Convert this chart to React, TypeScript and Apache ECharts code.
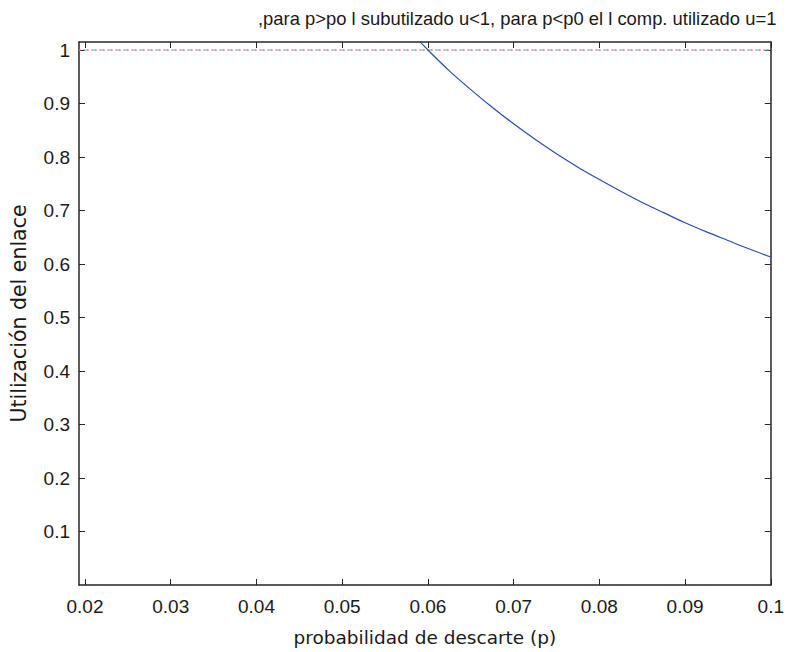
import React, { useEffect, useRef } from "react";
import * as echarts from "echarts";

const titleText = ",para p>po l subutilzado u<1, para p<p0 el l comp. utilizado u=1";
const xName = "probabilidad de descarte (p)";
const yName = "Utilización del enlace";

const xTicks = [0.02, 0.03, 0.04, 0.05, 0.06, 0.07, 0.08, 0.09, 0.1];
const yTicks = [0.1, 0.2, 0.3, 0.4, 0.5, 0.6, 0.7, 0.8, 0.9, 1];

// blue curve (u for p > p0)
const curveP = [0.059, 0.06, 0.0625, 0.065, 0.0675, 0.07, 0.0725, 0.075, 0.0775, 0.08, 0.0825, 0.085, 0.0875, 0.09, 0.0925, 0.095, 0.0975, 0.1];
const curveU = [1.017, 1.0, 0.961, 0.926, 0.893, 0.862, 0.833, 0.806, 0.781, 0.758, 0.736, 0.715, 0.696, 0.677, 0.66, 0.644, 0.628, 0.613];

// horizontal u = 1 lines
const flatP = [0.0193, 0.1];
const flatU = [1, 1];

const fmt = (v: number) => String(+v.toFixed(3));
const font = "Liberation Sans, Arial, Helvetica, sans-serif";
const wideFont = "DejaVu Sans, Liberation Sans, sans-serif";
const axisColor = "#262626";
const textColor = "#1a1a1a";

export default function App() {
  const ref = useRef<HTMLDivElement>(null);
  useEffect(() => {
    if (!ref.current) return;
    const chart = echarts.init(ref.current, undefined, { renderer: "svg" });
    const baseX = {
      type: "value" as const,
      min: 0.0193,
      max: 0.1,
      splitLine: { show: false },
      axisLine: { show: true, onZero: false, lineStyle: { color: axisColor, width: 1.5 } },
    };
    const baseY = {
      type: "value" as const,
      min: 0,
      max: 1.015,
      splitLine: { show: false },
      axisLine: { show: true, onZero: false, lineStyle: { color: axisColor, width: 1.5 } },
    };
    chart.setOption({
      animation: false,
      backgroundColor: "#ffffff",
      textStyle: { fontFamily: font },
      title: {
        text: titleText,
        left: 253,
        top: 4,
        textStyle: { fontSize: 18.4, fontWeight: "normal", color: textColor, fontFamily: font },
      },
      grid: { left: 79, right: 14, top: 42, bottom: 62 },
      xAxis: [
        {
          ...baseX,
          position: "bottom",
          name: xName,
          nameLocation: "middle",
          nameGap: 43,
          nameTextStyle: { fontSize: 18.5, color: textColor, fontFamily: wideFont },
          axisTick: { show: true, inside: true, length: 6, customValues: xTicks, lineStyle: { color: axisColor } },
          axisLabel: {
            show: true,
            customValues: xTicks,
            formatter: (v: number) => fmt(v),
            fontSize: 19,
            color: textColor,
            margin: 12,
            fontFamily: font,
          },
        },
        {
          ...baseX,
          position: "top",
          axisTick: { show: true, inside: true, length: 6, customValues: xTicks, lineStyle: { color: axisColor } },
          axisLabel: { show: false },
        },
      ],
      yAxis: [
        {
          ...baseY,
          position: "left",
          name: yName,
          nameLocation: "middle",
          nameGap: 50,
          nameTextStyle: { fontSize: 20.5, color: textColor, fontFamily: wideFont },
          axisTick: { show: true, inside: true, length: 6, customValues: yTicks, lineStyle: { color: axisColor } },
          axisLabel: {
            show: true,
            customValues: yTicks,
            formatter: (v: number) => fmt(v),
            fontSize: 19,
            color: textColor,
            margin: 9,
            fontFamily: font,
          },
        },
        {
          ...baseY,
          position: "right",
          axisTick: { show: true, inside: true, length: 6, customValues: yTicks, lineStyle: { color: axisColor } },
          axisLabel: { show: false },
        },
      ],
      series: [
        {
          type: "line",
          xAxisIndex: 0,
          yAxisIndex: 0,
          data: flatP.map((p, i) => [p, flatU[i]]),
          showSymbol: false,
          lineStyle: { color: "#d9707a", width: 1, type: [2, 2] },
          silent: true,
        },
        {
          type: "line",
          xAxisIndex: 0,
          yAxisIndex: 0,
          data: flatP.map((p, i) => [p, flatU[i]]),
          showSymbol: false,
          lineStyle: { color: "#5ab8a8", width: 1, type: [3, 5], dashOffset: 2 },
          silent: true,
        },
        {
          type: "line",
          xAxisIndex: 0,
          yAxisIndex: 0,
          data: curveP.map((p, i) => [p, curveU[i]]),
          showSymbol: false,
          smooth: 0.3,
          clip: true,
          lineStyle: { color: "#2a4cb0", width: 1.2 },
          silent: true,
        },
      ],
    });
    return () => chart.dispose();
  }, []);
  return (
    <div
      ref={ref}
      style={{ position: "absolute", left: 0, top: 0, width: 787, height: 652 }}
    />
  );
}
